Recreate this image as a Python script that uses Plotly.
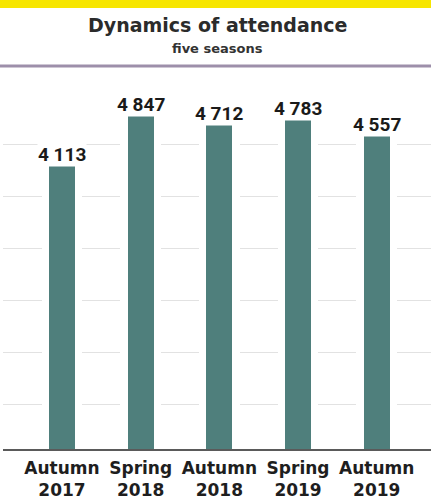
import plotly.graph_objects as go

categories = ["Autumn<br>2017", "Spring<br>2018", "Autumn<br>2018", "Spring<br>2019", "Autumn<br>2019"]
attendance = [4113, 4847, 4712, 4783, 4557]
title_text = "Dynamics of attendance"
subtitle_text = "five seasons"

labels = [f"{v:,}".replace(",", " ") for v in attendance]

PLOT_H = 356.0
PLOT_W = 428.0

fig = go.Figure()
# white halo behind bars (breaks gridlines around bars)
fig.add_trace(go.Bar(x=categories, y=attendance, width=0.52,
                     marker=dict(color="white", line=dict(width=0)),
                     hoverinfo="skip", showlegend=False))
fig.add_trace(go.Bar(x=categories, y=attendance, width=0.33,
                     marker=dict(color="#4f7f7c", line=dict(width=0)),
                     showlegend=False))

for c, v, t in zip(categories, attendance, labels):
    fig.add_annotation(x=c, y=v, text=t, showarrow=False, yanchor="bottom",
                       yshift=-1, bgcolor="white", borderpad=0,
                       font=dict(family="Roboto", size=19, color="#1a1a1a", weight="bold"))

fig.add_annotation(xref="paper", yref="paper", x=0.5, y=1, yanchor="middle",
                   yshift=68, text=title_text, showarrow=False,
                   font=dict(family="DejaVu Sans", size=19, color="#2b2b2b", weight="bold"))
fig.add_annotation(xref="paper", yref="paper", x=0.5, y=1, yanchor="middle",
                   yshift=45, text=subtitle_text, showarrow=False,
                   font=dict(family="DejaVu Sans", size=13, color="#333333", weight="bold"))

# purple separator line
fig.add_shape(type="line", xref="paper", yref="paper",
              x0=-3 / PLOT_W, x1=1, y0=1 + 27 / PLOT_H, y1=1 + 27 / PLOT_H,
              line=dict(color="#9d8faa", width=3))
# yellow band at top
fig.add_shape(type="rect", xref="paper", yref="paper",
              x0=-3 / PLOT_W, x1=1, y0=1 + 85 / PLOT_H, y1=1 + 95 / PLOT_H,
              fillcolor="#f7e600", line=dict(width=0), layer="above")

fig.update_layout(
    width=431, height=502,
    margin=dict(l=3, r=0, t=93, b=53),
    paper_bgcolor="white", plot_bgcolor="white",
    barmode="overlay", bargap=0,
    xaxis=dict(range=[-0.75, 4.69], showgrid=False, showline=True, automargin=False,
               linecolor="#5a5a5a", linewidth=1.5, ticks="", ticklabelstandoff=3,
               tickfont=dict(family="DejaVu Sans", size=17, color="#1e1e1e", weight="bold"),
               fixedrange=True),
    yaxis=dict(range=[0, 5180], tick0=650, dtick=755, showticklabels=False,
               showgrid=True, gridcolor="#e2e2e2", gridwidth=1, zeroline=False,
               automargin=False, fixedrange=True),
)

fig.write_html("out.html")
